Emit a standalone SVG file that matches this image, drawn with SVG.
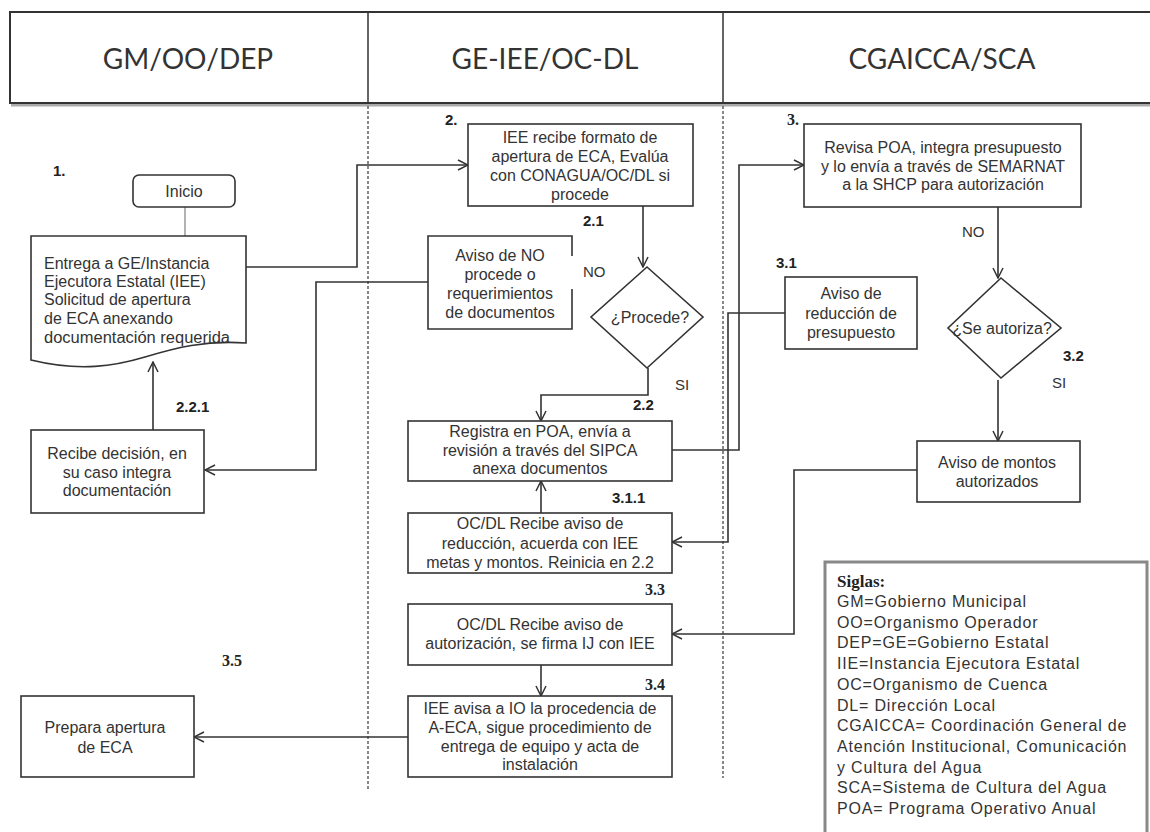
<svg xmlns="http://www.w3.org/2000/svg" width="1150" height="832" viewBox="0 0 1150 832">
<style>
.box{fill:#fff;stroke:#333;stroke-width:1.6}
.t{font-family:"Liberation Sans",Arial,sans-serif;font-size:16px;fill:#333;text-anchor:middle}
.tl{font-family:"Liberation Sans",Arial,sans-serif;font-size:16px;fill:#333}
.lb{font-family:"Liberation Sans",Arial,sans-serif;font-size:15px;font-weight:bold;fill:#222}
.ls{font-family:"Liberation Serif","Times New Roman",serif;font-size:16px;font-weight:bold;fill:#222}
.yn{font-family:"Liberation Sans",Arial,sans-serif;font-size:15px;fill:#333}
.hd{font-family:Lato,"Open Sans",sans-serif;font-size:28px;fill:#333;text-anchor:middle}
.c{fill:none;stroke:#333;stroke-width:1.6}
.ca{fill:none;stroke:#333;stroke-width:1.6;marker-end:url(#ar)}
.dot{stroke:#555;stroke-width:1.4;stroke-dasharray:3,2}
.leg{font-family:"Liberation Sans",Arial,sans-serif;font-size:16px;fill:#333;letter-spacing:0.8px}
</style>
<defs>
<marker id="ar" viewBox="0 0 12 12" refX="11" refY="6" markerWidth="12" markerHeight="12" markerUnits="userSpaceOnUse" orient="auto">
<path d="M1,1 L11,6 L1,11" fill="none" stroke="#333" stroke-width="1.5"/>
</marker>
</defs>
<rect width="1150" height="832" fill="#fff"/>

<g id="header">
<line x1="11" y1="105" x2="1150" y2="105" stroke="#aaa" stroke-width="3"/>
<rect x="10" y="12" width="1145" height="91" fill="#fff" stroke="#333" stroke-width="2"/>
<line x1="368" y1="12" x2="368" y2="103" stroke="#333" stroke-width="1.5"/>
<line x1="723" y1="12" x2="723" y2="103" stroke="#333" stroke-width="1.5"/>
<text class="hd" x="188" y="69">GM/OO/DEP</text>
<text class="hd" x="545" y="69">GE-IEE/OC-DL</text>
<text class="hd" x="942" y="69">CGAICCA/SCA</text>
</g>

<g id="lanes">
<line class="dot" x1="368" y1="106" x2="368" y2="790"/>
<line class="dot" x1="723" y1="106" x2="723" y2="778"/>
</g>

<g id="connectors">
<line x1="185" y1="207" x2="185" y2="236" stroke="#999" stroke-width="1.5"/>
<path class="ca" d="M246,267 H357 V165 H468"/>
<path class="ca" d="M428,282 H316 V470 H205"/>
<path class="ca" d="M153,430 V362"/>
<path class="ca" d="M643,206 V267"/>
<path class="ca" d="M648,368 V395 H541 V421"/>
<path class="ca" d="M672,450 H739 V165 H804"/>
<path class="ca" d="M998,207 V278"/>
<path class="ca" d="M998,380 V441"/>
<path class="ca" d="M785,313 H728 V542 H672"/>
<path class="ca" d="M541,513 V481"/>
<path class="ca" d="M917,470 H794 V634 H672"/>
<path class="ca" d="M541,665 V696"/>
<path class="ca" d="M408,737 H194"/>
</g>

<g id="n1">
<text class="lb" x="53" y="176">1.</text>
</g>
<g id="inicio">
<rect class="box" x="133" y="175" width="102" height="32" rx="6"/>
<text class="t" x="184" y="197">Inicio</text>
</g>
<g id="entrega">
<path class="box" d="M31,236 H246 V343 C205,340 175,348 145,357 C115,366 80,372 31,360 Z"/>
<text class="tl" x="44" y="269">Entrega a GE/Instancia</text>
<text class="tl" x="44" y="287">Ejecutora Estatal (IEE)</text>
<text class="tl" x="44" y="305">Solicitud de apertura</text>
<text class="tl" x="44" y="324">de ECA anexando</text>
<text class="tl" x="44" y="343" textLength="186" lengthAdjust="spacingAndGlyphs">documentación requerida</text>
</g>
<g id="recibe">
<rect class="box" x="31" y="430" width="173" height="83"/>
<text class="t" x="117" y="459">Recibe decisión, en</text>
<text class="t" x="117" y="478">su caso integra</text>
<text class="t" x="117" y="496">documentación</text>
<text class="lb" x="176" y="412">2.2.1</text>
</g>
<g id="prepara">
<rect class="box" x="21" y="696" width="173" height="81"/>
<text class="t" x="105" y="733">Prepara apertura</text>
<text class="t" x="105" y="753">de ECA</text>
<text class="ls" x="222" y="666">3.5</text>
</g>

<g id="n2">
<text class="lb" x="445" y="125">2.</text>
<rect class="box" x="468" y="124" width="225" height="82"/>
<text class="t" x="580" y="143">IEE recibe formato de</text>
<text class="t" x="580" y="162">apertura de ECA, Evalúa</text>
<text class="t" x="580" y="181">con CONAGUA/OC/DL si</text>
<text class="t" x="580" y="200">procede</text>
<text class="lb" x="583" y="226">2.1</text>
</g>
<g id="avisoNo">
<path fill="#fff" stroke="none" d="M428,236 H572 V329 H428 Z"/>
<path class="c" d="M572,256 V236 H428 V329 H572 V289"/>
<text class="t" x="500" y="261">Aviso de NO</text>
<text class="t" x="500" y="280">procede o</text>
<text class="t" x="500" y="299">requerimientos</text>
<text class="t" x="500" y="318">de documentos</text>
</g>
<g id="procede">
<polygon class="box" points="647,267 703,317 647,368 591,317"/>
<text class="t" x="650" y="323">¿Procede?</text>
<text class="yn" x="583" y="277">NO</text>
<text class="yn" x="675" y="390">SI</text>
<text class="lb" x="633" y="410">2.2</text>
</g>
<g id="registra">
<rect class="box" x="408" y="421" width="264" height="60"/>
<text class="t" x="540" y="437">Registra en POA, envía a</text>
<text class="t" x="540" y="456">revisión a través del SIPCA</text>
<text class="t" x="540" y="474">anexa documentos</text>
<text class="lb" x="612" y="503">3.1.1</text>
</g>
<g id="ocReduccion">
<rect class="box" x="408" y="513" width="264" height="60"/>
<text class="t" x="540" y="529">OC/DL Recibe aviso de</text>
<text class="t" x="540" y="549">reducción, acuerda con IEE</text>
<text class="t" x="540" y="568">metas y montos. Reinicia en 2.2</text>
<text class="ls" x="645" y="595">3.3</text>
</g>
<g id="ocAutorizacion">
<rect class="box" x="408" y="604" width="264" height="61"/>
<text class="t" x="540" y="630">OC/DL Recibe aviso de</text>
<text class="t" x="540" y="649">autorización, se firma IJ con IEE</text>
<text class="ls" x="645" y="690">3.4</text>
</g>
<g id="ieeAvisa">
<rect class="box" x="408" y="696" width="264" height="81"/>
<text class="t" x="540" y="714">IEE avisa a IO  la procedencia de</text>
<text class="t" x="540" y="733">A-ECA, sigue procedimiento  de</text>
<text class="t" x="540" y="752">entrega de equipo y acta de</text>
<text class="t" x="540" y="770">instalación</text>
</g>

<g id="n3">
<text class="ls" x="787" y="125">3.</text>
<rect class="box" x="804" y="124" width="277" height="83"/>
<text class="t" x="943" y="153">Revisa POA, integra presupuesto</text>
<text class="t" x="943" y="172">y lo envía a través de SEMARNAT</text>
<text class="t" x="943" y="190">a la SHCP para autorización</text>
<text class="yn" x="962" y="237">NO</text>
</g>
<g id="avisoReduccion">
<text class="lb" x="776" y="268">3.1</text>
<rect class="box" x="785" y="277" width="132" height="72"/>
<text class="t" x="851" y="299">Aviso de</text>
<text class="t" x="851" y="319">reducción de</text>
<text class="t" x="851" y="338">presupuesto</text>
</g>
<g id="autoriza">
<polygon class="box" points="1001,278 1061,328 1001,378 948,328"/>
<text class="t" x="1002" y="334">¿Se autoriza?</text>
<text class="lb" x="1063" y="361">3.2</text>
<text class="yn" x="1052" y="388">SI</text>
</g>
<g id="avisoMontos">
<rect class="box" x="917" y="441" width="163" height="61"/>
<text class="t" x="997" y="468">Aviso de montos</text>
<text class="t" x="997" y="487">autorizados</text>
</g>

<g id="siglas">
<rect x="825" y="562" width="322" height="290" fill="#fff" stroke="#888" stroke-width="3"/>
<text class="ls" x="837" y="587" style="font-size:17px">Siglas:</text>
<text class="leg" x="837" y="607">GM=Gobierno Municipal</text>
<text class="leg" x="837" y="627.7">OO=Organismo Operador</text>
<text class="leg" x="837" y="648.4">DEP=GE=Gobierno Estatal</text>
<text class="leg" x="837" y="669.1">IIE=Instancia Ejecutora Estatal</text>
<text class="leg" x="837" y="689.8">OC=Organismo de Cuenca</text>
<text class="leg" x="837" y="710.5">DL= Dirección Local</text>
<text class="leg" x="837" y="731.2">CGAICCA= Coordinación General de</text>
<text class="leg" x="837" y="751.9">Atención Institucional, Comunicación</text>
<text class="leg" x="837" y="772.6">y Cultura del Agua</text>
<text class="leg" x="837" y="793.3">SCA=Sistema de Cultura del Agua</text>
<text class="leg" x="837" y="814">POA= Programa Operativo Anual</text>
</g>
</svg>
